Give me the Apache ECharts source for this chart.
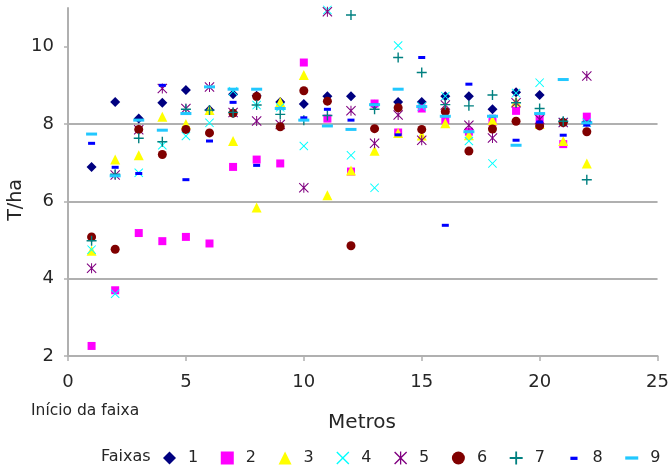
<!DOCTYPE html>
<html><head><meta charset="utf-8">
<script src="https://cdn.jsdelivr.net/npm/echarts@6/dist/echarts.min.js"></script>
<style>html,body{margin:0;padding:0;background:#fff}#c{width:672px;height:466px}</style>
</head><body><div id="c"></div>
<script>
// Metros (x positions)
const metros = [1,2,3,4,5,6,7,8,9,10,11,12,13,14,15,16,17,18,19,20,21,22];
// T/ha per faixa
const faixa1 = [6.89,8.57,8.14,8.55,8.88,8.36,8.77,8.73,8.57,8.52,8.72,8.72,8.50,8.57,8.57,8.72,8.72,8.38,8.82,8.75,8.05,8.06];
const faixa2 = [2.26,3.70,5.18,4.97,5.08,4.91,6.89,7.08,6.98,9.59,8.14,6.77,8.53,7.78,8.40,8.10,7.80,8.05,8.34,8.12,7.48,8.19];
const faixa3 = [4.72,7.08,7.19,8.19,8.00,8.36,7.56,5.84,8.57,9.27,6.16,6.80,7.31,7.77,7.70,8.02,7.71,8.10,8.58,8.00,7.56,6.98];
const faixa4 = [4.75,3.61,6.74,7.45,7.69,8.03,8.85,8.49,8.43,7.43,10.95,7.19,6.35,10.03,8.45,8.72,7.56,6.98,8.80,9.07,8.05,8.03];
const faixa5 = [4.27,6.68,7.85,8.92,8.40,8.96,8.30,8.08,7.99,6.35,10.90,8.34,7.50,8.23,7.58,8.49,7.97,7.64,8.55,8.12,8.04,9.24];
const faixa6 = [5.08,4.76,7.86,7.21,7.86,7.77,8.28,8.71,7.93,8.86,8.59,4.85,7.88,8.42,7.86,8.32,7.30,7.87,8.07,7.95,8.04,7.80];
const faixa7 = [4.98,6.70,7.63,7.54,8.38,8.36,8.30,8.49,8.25,8.10,8.22,10.82,8.38,9.72,9.33,8.50,8.47,8.75,8.55,8.40,8.07,6.56];
const faixa8 = [7.50,6.88,6.72,9.00,6.56,7.56,8.56,6.93,8.40,8.16,8.38,8.10,8.50,7.72,9.72,5.38,9.03,8.20,7.58,8.05,7.71,7.97];
const faixa9 = [7.74,6.66,8.10,7.84,8.27,8.96,8.90,8.90,8.40,8.10,7.95,7.86,8.50,8.90,8.45,8.20,7.80,8.20,7.45,8.27,9.15,8.03];
const faixaNames = ['1','2','3','4','5','6','7','8','9'];
const yTicks = [2,4,6,8,10];
const xTicks = [0,5,10,15,20,25];

const allData = [faixa1,faixa2,faixa3,faixa4,faixa5,faixa6,faixa7,faixa8,faixa9];
const X_PATH = 'path://M0,1.5L1.5,0L10,8.5L18.5,0L20,1.5L11.5,10L20,18.5L18.5,20L10,11.5L1.5,20L0,18.5L8.5,10Z';
const AST_PATH = 'path://M0,1.5L1.5,0L10,8.5L18.5,0L20,1.5L11.5,10L20,18.5L18.5,20L10,11.5L1.5,20L0,18.5L8.5,10Z M9,0L11,0L11,20L9,20Z';
const PLUS_PATH = 'path://M8.6,0H11.4V8.6H20V11.4H11.4V20H8.6V11.4H0V8.6H8.6Z';
const styles = [
  {color:'#000080', symbol:'diamond', size:10},
  {color:'#FF00FF', symbol:'rect', size:8},
  {color:'#FFFF00', symbol:'triangle', size:10},
  {color:'#00FFFF', symbol:X_PATH, size:9},
  {color:'#800080', symbol:AST_PATH, size:10},
  {color:'#800000', symbol:'circle', size:9},
  {color:'#008080', symbol:PLUS_PATH, size:10},
  {color:'#0000FF', symbol:'rect', size:[7,3]},
  {color:'#22C8FF', symbol:'rect', size:[11,3]}
];
const legendIcons = ['diamond','rect','triangle',X_PATH,AST_PATH,'circle',PLUS_PATH,
  'path://M0,0M20,20M4.5,8H15.5V13H4.5Z','path://M0,7.5H20V12.5H0Z'];

const series = allData.map((arr,i)=>({
  name: faixaNames[i],
  type: 'scatter',
  symbol: styles[i].symbol,
  symbolSize: styles[i].size,
  itemStyle: {color: styles[i].color, opacity: 1},
  emphasis: {disabled: true},
  data: metros.map((m,j)=>[m, arr[j]])
}));

const font = 'DejaVu Sans';
const txt = '#262626';
const chart = echarts.init(document.getElementById('c'), null, {renderer:'canvas'});
chart.setOption({
  animation: false,
  backgroundColor: '#fff',
  grid: {left: 68, right: 11, top: 8, bottom: 110, containLabel: false},
  xAxis: {
    type: 'value', min: xTicks[0], max: xTicks[xTicks.length-1], interval: 5,
    axisLine: {show: true, lineStyle: {color: '#b0b0b0', width: 2}},
    axisTick: {show: true, length: 5, inside: false, lineStyle: {color: '#b0b0b0', width: 1.5}},
    axisLabel: {fontFamily: font, fontSize: 18, color: txt, margin: 17},
    splitLine: {show: false}
  },
  yAxis: {
    type: 'value', min: yTicks[0], max: 11, interval: 2,
    axisLine: {show: true, lineStyle: {color: '#b0b0b0', width: 2}},
    axisTick: {show: true, length: 4, lineStyle: {color: '#b0b0b0', width: 1.5}, customValues: yTicks},
    axisLabel: {fontFamily: font, fontSize: 18, color: txt, margin: 14,
      formatter: v => (yTicks.indexOf(v) >= 0 ? String(v) : '')},
    splitLine: {show: true, showMaxLine: false, lineStyle: {color: '#b0b0b0', width: 2}}
  },
  legend: {
    left: 158, top: 445,
    itemWidth: 13, itemHeight: 13, itemGap: 22.6,
    symbolKeepAspect: true,
    textStyle: {fontFamily: font, fontSize: 16, color: txt, padding: [0,0,0,7]},
    data: faixaNames.map((n,i)=>({name: n, icon: legendIcons[i]})),
    selectedMode: false
  },
  graphic: [
    {type:'text', x:16, y:200, rotation: Math.PI/2,
     style:{text:'T/ha', fontFamily: font, fontSize: 19, fill: txt, align:'center', verticalAlign:'middle'}},
    {type:'text', x:362, y:423,
     style:{text:'Metros', fontFamily: font, fontSize: 20, fill: txt, align:'center', verticalAlign:'middle'}},
    {type:'text', x:31, y:411,
     style:{text:'Início da faixa', fontFamily: font, fontSize: 15.5, fill: txt, align:'left', verticalAlign:'middle'}},
    {type:'text', x:101, y:457,
     style:{text:'Faixas', fontFamily: font, fontSize: 16, fill: txt, align:'left', verticalAlign:'middle'}}
  ],
  series: series
});
</script>
</body></html>
